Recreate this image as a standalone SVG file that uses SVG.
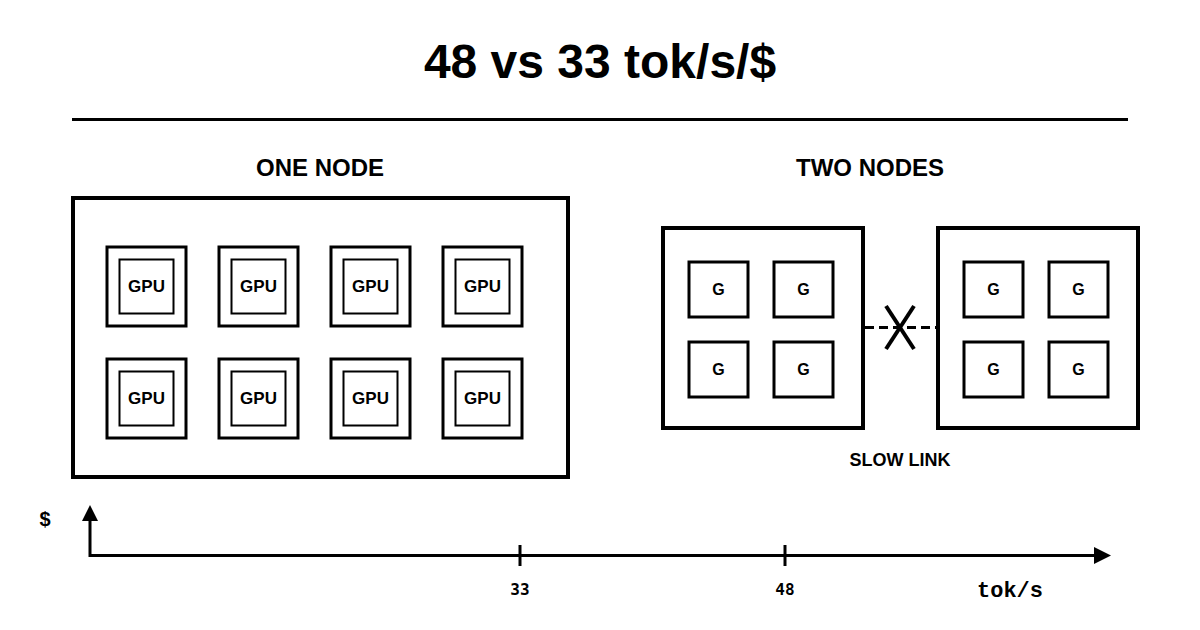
<svg xmlns="http://www.w3.org/2000/svg" width="1200" height="630" viewBox="0 0 1200 630">
<style>
text{font-family:"Liberation Sans",Arial,sans-serif;font-weight:bold;fill:#000;text-anchor:middle}
.title{font-size:48px}
.head{font-size:24px}
.gpu{font-size:17px}
.g{font-size:16px}
.lbl{font-size:18px}
.mono{font-family:"DejaVu Sans Mono",monospace;font-size:16px}
.unit{font-family:"Liberation Mono","Courier New",monospace;font-size:22px}
.box{fill:#fff;stroke:#000;stroke-width:4}
.out{fill:#fff;stroke:#000;stroke-width:3}
.in{fill:#fff;stroke:#000;stroke-width:2}
.ln{stroke:#000;stroke-width:3;fill:none}
</style>
<defs>
<g id="gpuTile">
<rect class="out" x="0" y="0" width="79" height="79"/>
<rect class="in" x="12.5" y="12.5" width="54" height="54"/>
<text class="gpu" x="39.5" y="45">GPU</text>
</g>
<g id="gTile">
<rect class="out" x="0" y="0" width="59" height="55"/>
<text class="g" x="29.5" y="33">G</text>
</g>
</defs>
<g id="title">
<text class="title" x="600" y="78">48 vs 33 tok/s/$</text>
<line class="ln" x1="72" y1="119.5" x2="1128" y2="119.5"/>
</g>
<g id="one-node">
<text class="head" x="320" y="176">ONE NODE</text>
<rect class="box" x="73" y="198" width="495" height="279"/>
<use href="#gpuTile" x="107" y="247"/>
<use href="#gpuTile" x="219" y="247"/>
<use href="#gpuTile" x="331" y="247"/>
<use href="#gpuTile" x="443" y="247"/>
<use href="#gpuTile" x="107" y="359"/>
<use href="#gpuTile" x="219" y="359"/>
<use href="#gpuTile" x="331" y="359"/>
<use href="#gpuTile" x="443" y="359"/>
</g>
<text class="head" x="870" y="176">TWO NODES</text>
<g id="node-a">
<rect class="box" x="663" y="228" width="200" height="200"/>
<use href="#gTile" x="689" y="262"/>
<use href="#gTile" x="774" y="262"/>
<use href="#gTile" x="689" y="342"/>
<use href="#gTile" x="774" y="342"/>
</g>
<g id="node-b">
<rect class="box" x="938" y="228" width="200" height="200"/>
<use href="#gTile" x="964" y="262"/>
<use href="#gTile" x="1049" y="262"/>
<use href="#gTile" x="964" y="342"/>
<use href="#gTile" x="1049" y="342"/>
</g>
<g id="connectors">
<line class="ln" x1="865" y1="327.5" x2="936" y2="327.5" stroke-dasharray="9 5"/>
<line x1="886" y1="306" x2="914" y2="349" stroke="#000" stroke-width="4"/>
<line x1="914" y1="306" x2="886" y2="349" stroke="#000" stroke-width="4"/>
</g>
<text class="lbl" x="900" y="466">SLOW LINK</text>
<g id="axes">
<polyline class="ln" points="90,521 90,555.5 1095,555.5"/>
<polygon points="90,505 82,521 98,521" fill="#000"/>
<polygon points="1111,555.5 1094,547 1094,564" fill="#000"/>
<line class="ln" x1="520" y1="545" x2="520" y2="566"/>
<line class="ln" x1="785" y1="545" x2="785" y2="566"/>
</g>
<text x="45" y="526" style="font-size:20px">$</text>
<text class="mono" x="520" y="595">33</text>
<text class="mono" x="785" y="595">48</text>
<text class="unit" x="1010" y="597">tok/s</text>
</svg>
